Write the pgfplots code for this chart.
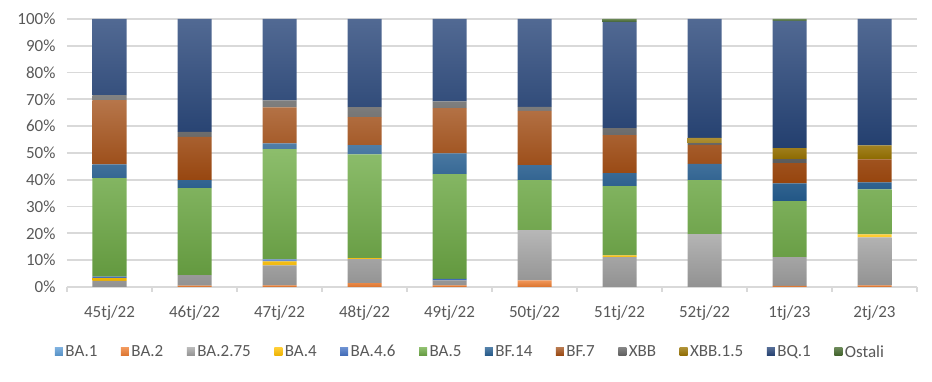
\documentclass[border=0pt]{standalone}
\usepackage{pgfplots}
\usepackage{pgfplotstable}
\pgfplotsset{compat=1.18}
\usepackage{fontspec}
\setmainfont{Carlito}
\definecolor{cBAa}{HTML}{5B9BD5}
\definecolor{cBAb}{HTML}{ED7D31}
\definecolor{cBAc}{HTML}{A5A5A5}
\definecolor{cBAd}{HTML}{FFC000}
\definecolor{cBAe}{HTML}{4472C4}
\definecolor{cBAf}{HTML}{70AD47}
\definecolor{cBFa}{HTML}{255E91}
\definecolor{cBFb}{HTML}{9E480E}
\definecolor{cXBB}{HTML}{636363}
\definecolor{cXBBb}{HTML}{997300}
\definecolor{cBQ}{HTML}{264478}
\definecolor{cOst}{HTML}{43682B}
\definecolor{txt}{HTML}{595959}
\definecolor{grd}{HTML}{D9D9D9}
\pgfplotstableread{
x  a    b    c     d    e    f     g    h     i    j    k     l
0  0    0    2.3   1.0  0.6  36.7  5.2  23.9  1.9  0    28.4  0
1  0    0.5  3.9   0    0    32.5  3.0  16.1  1.9  0    42.1  0
2  0    0.6  7.5   1.5  0.7  41.1  2.2  13.4  2.6  0    30.4  0
3  0    1.4  9.0   0.4  0    38.7  3.4  10.5  3.7  0    32.9  0
4  0    0.6  1.9   0    0.5  39.1  7.8  16.8  2.6  0    30.7  0
5  0    2.5  18.7  0    0    18.7  5.6  20.2  1.5  0    32.8  0
6  0    0    11.1  0.7  0    25.8  4.9  14.2  2.6  0    39.6  1.1
7  0    0    19.7  0    0    20.2  6.0  7.1   0.7  1.9  44.4  0
8  0    0.4  10.7  0    0    20.9  6.7  7.5   1.5  4.1  47.5  0.7
9  0    0.6  17.9  1.1  0    16.8  2.6  8.6   0    5.2  47.2  0
}\data
\newcommand{\lab}{\fontsize{17}{20}\selectfont}
\begin{document}
\begin{tikzpicture}
\useasboundingbox (0,0) rectangle (932pt,382pt);
\begin{axis}[
  at={(67pt,95pt)}, anchor=south west,
  width=850pt, height=268pt, scale only axis,
  ybar stacked, bar width=34pt,
  xmin=-0.5, xmax=9.5, ymin=0, ymax=100,
  xtick={0,...,9},
  xticklabels={45tj/22,46tj/22,47tj/22,48tj/22,49tj/22,50tj/22,51tj/22,52tj/22,1tj/23,2tj/23},
  ytick={0,10,...,100},
  yticklabel={\pgfmathprintnumber{\tick}\%},
  /pgf/number format/assume math mode=true,
  ticklabel style={font=\lab, text=txt},
  xticklabel style={yshift=-15pt},
  yticklabel style={xshift=-8pt},
  major tick length=0pt,
  extra x ticks={-0.5,0.5,...,9.5},
  extra x tick labels={},
  extra x tick style={major tick length=5pt, tick align=outside, tick style={grd, line width=1.5pt}},
  ymajorgrids, grid style={grd, line width=1.8pt},
  axis line style={draw=none},
  axis x line*=bottom, axis y line*=left,
  x axis line style={draw=grd, line width=1.8pt},
  legend columns=12,
  legend style={at={(0.475,-0.2425)}, anchor=center, draw=none, font=\lab, text=txt,
    nodes={inner xsep=2.5pt},
    /tikz/every even column/.append style={column sep=21pt},
    /tikz/every odd column/.append style={column sep=0pt}},
  legend cell align=left,
  legend image code/.code={\path[#1,draw=none] (0pt,-4pt) rectangle (8pt,4pt);},
  every axis plot/.append style={draw=none},
]
\addplot[top color=cBAa!80!white, bottom color=cBAa!92!black] table[x=x,y=a]{\data};
\addplot[top color=cBAb!80!white, bottom color=cBAb!92!black] table[x=x,y=b]{\data};
\addplot[top color=cBAc!80!white, bottom color=cBAc!88!black] table[x=x,y=c]{\data};
\addplot[top color=cBAd!80!white, bottom color=cBAd!92!black] table[x=x,y=d]{\data};
\addplot[top color=cBAe!80!white, bottom color=cBAe!92!black] table[x=x,y=e]{\data};
\addplot[top color=cBAf!80!white, bottom color=cBAf!88!black] table[x=x,y=f]{\data};
\addplot[top color=cBFa!80!white, bottom color=cBFa!92!black] table[x=x,y=g]{\data};
\addplot[top color=cBFb!75!white, bottom color=cBFb!95!black] table[x=x,y=h]{\data};
\addplot[top color=cXBB!80!white, bottom color=cXBB!92!black] table[x=x,y=i]{\data};
\addplot[top color=cXBBb!80!white, bottom color=cXBBb!92!black] table[x=x,y=j]{\data};
\addplot[top color=cBQ!80!white, bottom color=cBQ!92!black] table[x=x,y=k]{\data};
\addplot[top color=cOst!80!white, bottom color=cOst!92!black] table[x=x,y=l]{\data};
\legend{BA.1,BA.2,BA.2.75,BA.4,BA.4.6,BA.5,BF.14,BF.7,XBB,XBB.1.5,BQ.1,Ostali}
\end{axis}
\end{tikzpicture}
\end{document}
